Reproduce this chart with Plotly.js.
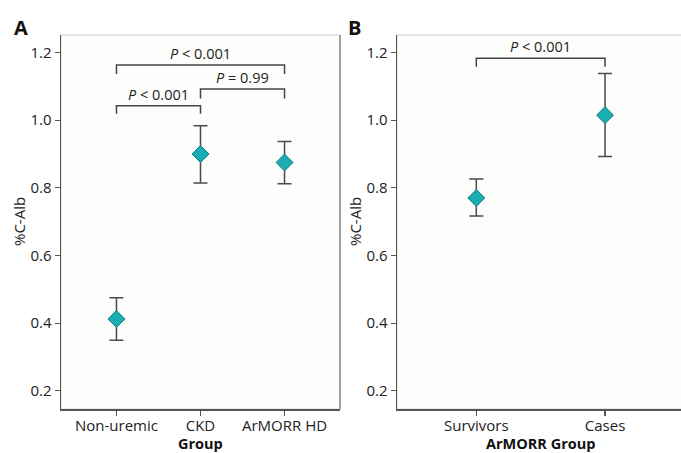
<!DOCTYPE html>
<html><head><meta charset="utf-8">
<script src="https://cdn.plot.ly/plotly-3.0.1.min.js"></script>
<style>html,body{margin:0;padding:0;background:#fff}</style>
</head><body><div id="chart" style="width:681px;height:453px"></div>
<script>
// Panel A data
const groupsA = ['Non-uremic', 'CKD', 'ArMORR HD'];
const meanA = [0.412, 0.900, 0.875];
const upperA = [0.475, 0.984, 0.937];
const lowerA = [0.349, 0.814, 0.812];
// Panel B data
const groupsB = ['Survivors', 'Cases'];
const meanB = [0.770, 1.015];
const upperB = [0.826, 1.138];
const lowerB = [0.717, 0.893];
// Significance brackets: [from index, to index, bar level, leg bottom, label]
const bracketsA = [
  [0, 2, 1.163, 1.137, '<i>P</i> < 0.001'],
  [0, 1, 1.043, 1.019, '<i>P</i> < 0.001'],
  [1, 2, 1.092, 1.064, '<i>P</i> = 0.99']
];
const bracketsB = [
  [0, 1, 1.183, 1.158, '<i>P</i> < 0.001']
];
const yTicks = [0.2, 0.4, 0.6, 0.8, 1.0, 1.2];

const FONT = 'Open Sans, Noto Sans, sans-serif';
const teal = '#1aadb3';
const errCol = '#4a4a4a';

function trace(groups, mean, up, lo, xa, ya) {
  return {
    type: 'scatter', mode: 'markers', x: groups, y: mean, xaxis: xa, yaxis: ya,
    marker: {symbol: 'diamond', size: 13, color: teal, line: {color: '#0e7d83', width: 1}},
    error_y: {type: 'data', symmetric: false,
      array: up.map((u, i) => u - mean[i]), arrayminus: lo.map((l, i) => mean[i] - l),
      color: errCol, thickness: 1.5, width: 7},
    showlegend: false, hoverinfo: 'skip'
  };
}

const shapes = [];
const annotations = [];
function addBrackets(br, xr, yr) {
  br.forEach(b => {
    const path = `M ${b[0]} ${b[3]} L ${b[0]} ${b[2]} L ${b[1]} ${b[2]} L ${b[1]} ${b[3]}`;
    shapes.push({type: 'path', xref: xr, yref: yr, path: path, line: {color: '#444', width: 1.5}});
    annotations.push({xref: xr, yref: yr, x: (b[0] + b[1]) / 2, y: b[2], yanchor: 'bottom', yshift: 0,
      text: b[4], showarrow: false, font: {family: FONT, size: 14.5, color: '#222'}});
  });
}
addBrackets(bracketsA, 'x', 'y');
addBrackets(bracketsB, 'x2', 'y2');

// frames
shapes.push({type: 'rect', xref: 'x domain', yref: 'y domain', x0: 0, x1: 1, y0: 0, y1: 1,
  line: {color: '#d0d0d0', width: 1}, layer: 'below'});
shapes.push({type: 'line', xref: 'x domain', yref: 'y domain', x0: 1, x1: 1, y0: 0, y1: 1,
  line: {color: '#8a8a8a', width: 1.5}});
shapes.push({type: 'rect', xref: 'x2 domain', yref: 'y2 domain', x0: 0, x1: 1.02, y0: 0, y1: 1,
  line: {color: '#d0d0d0', width: 1}, layer: 'below'});

const ttlFont = {family: FONT, size: 15, color: '#222'};
const xTtlFont = {family: FONT, size: 14.5, color: '#111'};
annotations.push({xref: 'paper', yref: 'paper', x: 12 / 681, y: 1 - 12 / 453, xanchor: 'left', yanchor: 'top',
  text: '<b>A</b>', showarrow: false, font: {family: FONT, size: 20, color: '#111'}});
annotations.push({xref: 'paper', yref: 'paper', x: 346 / 681, y: 1 - 12 / 453, xanchor: 'left', yanchor: 'top',
  text: '<b>B</b>', showarrow: false, font: {family: FONT, size: 20, color: '#111'}});
annotations.push({xref: 'paper', yref: 'paper', x: 19 / 681, y: 1 - 222 / 453, xanchor: 'center', yanchor: 'middle',
  text: '%C-Alb', textangle: -90, showarrow: false, font: ttlFont});
annotations.push({xref: 'paper', yref: 'paper', x: 355 / 681, y: 1 - 222 / 453, xanchor: 'center', yanchor: 'middle',
  text: '%C-Alb', textangle: -90, showarrow: false, font: ttlFont});
annotations.push({xref: 'paper', yref: 'paper', x: 200 / 681, y: 0, xanchor: 'center', yanchor: 'bottom',
  yshift: -2, text: '<b>Group</b>', showarrow: false, font: xTtlFont});
annotations.push({xref: 'paper', yref: 'paper', x: 540 / 681, y: 0, xanchor: 'center', yanchor: 'bottom',
  yshift: -2, text: '<b>ArMORR Group</b>', showarrow: false, font: xTtlFont});

const axBase = {
  showline: true, linecolor: '#555', linewidth: 1.5, ticks: 'outside', ticklen: 5, tickcolor: '#555',
  tickwidth: 1.2, showgrid: false, zeroline: false, tickfont: {family: FONT, size: 15, color: '#222'}
};
const yDom = [44 / 453, 418 / 453];
const yA = Object.assign({}, axBase, {domain: yDom, range: [0.146, 1.252], tickvals: yTicks,
  ticktext: yTicks.map(v => v.toFixed(1)), anchor: 'x'});
const yB = Object.assign({}, axBase, {domain: yDom, range: [0.146, 1.252], tickvals: yTicks,
  ticktext: yTicks.map(v => v.toFixed(1)), anchor: 'x2'});
const xA = Object.assign({}, axBase, {domain: [61 / 681, 340 / 681], range: [-0.66, 2.66], anchor: 'y',
  type: 'category', ticklabelstandoff: -3});
const xB = Object.assign({}, axBase, {domain: [397 / 681, 1], range: [-0.616, 1.59], anchor: 'y2',
  type: 'category', ticklabelstandoff: -3});

const layout = {
  width: 681, height: 453, margin: {l: 0, r: 0, t: 0, b: 0},
  paper_bgcolor: '#ffffff', plot_bgcolor: '#fdfdfb',
  xaxis: xA, yaxis: yA, xaxis2: xB, yaxis2: yB,
  shapes: shapes, annotations: annotations, showlegend: false,
  font: {family: FONT}
};

Plotly.newPlot('chart', [trace(groupsA, meanA, upperA, lowerA, 'x', 'y'),
  trace(groupsB, meanB, upperB, lowerB, 'x2', 'y2')], layout, {displayModeBar: false, staticPlot: true});
</script></body></html>
